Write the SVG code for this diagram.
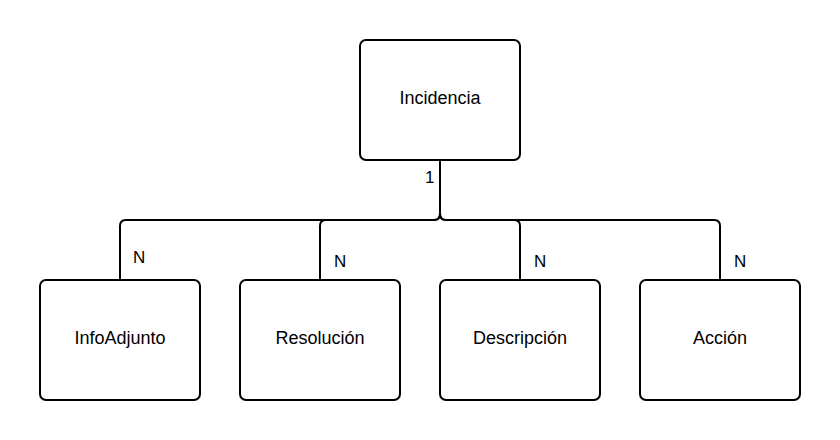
<svg xmlns="http://www.w3.org/2000/svg" width="840" height="440" viewBox="0 0 840 440">
<style>
.box{fill:#fff;stroke:#000;stroke-width:2}
.lbl{font-family:"Liberation Sans",Arial,sans-serif;font-size:18px;fill:#000;text-anchor:middle}
.card{font-family:"Liberation Sans",Arial,sans-serif;font-size:17px;fill:#000}
.conn{fill:none;stroke:#000;stroke-width:2}
</style>
<rect width="840" height="440" fill="#fff"/>
<g id="connectors">
<path class="conn" d="M440,160 V214 Q440,220 434,220 H126 Q120,220 120,226 V280"/>
<path class="conn" d="M440,160 V214 Q440,220 434,220 H326 Q320,220 320,226 V280"/>
<path class="conn" d="M440,160 V214 Q440,220 446,220 H514 Q520,220 520,226 V280"/>
<path class="conn" d="M440,160 V214 Q440,220 446,220 H714 Q720,220 720,226 V280"/>
<text class="card" x="425" y="183">1</text>
<text class="card" x="133" y="263">N</text>
<text class="card" x="334" y="267">N</text>
<text class="card" x="534" y="267">N</text>
<text class="card" x="734" y="267">N</text>
</g>
<g id="incidencia">
<rect class="box" x="360" y="40" width="160" height="120" rx="6"/>
<text class="lbl" x="440" y="104">Incidencia</text>
</g>
<g id="infoadjunto">
<rect class="box" x="40" y="280" width="160" height="120" rx="6"/>
<text class="lbl" x="120" y="344">InfoAdjunto</text>
</g>
<g id="resolucion">
<rect class="box" x="240" y="280" width="160" height="120" rx="6"/>
<text class="lbl" x="320" y="344">Resolución</text>
</g>
<g id="descripcion">
<rect class="box" x="440" y="280" width="160" height="120" rx="6"/>
<text class="lbl" x="520" y="344">Descripción</text>
</g>
<g id="accion">
<rect class="box" x="640" y="280" width="160" height="120" rx="6"/>
<text class="lbl" x="720" y="344">Acción</text>
</g>
</svg>
